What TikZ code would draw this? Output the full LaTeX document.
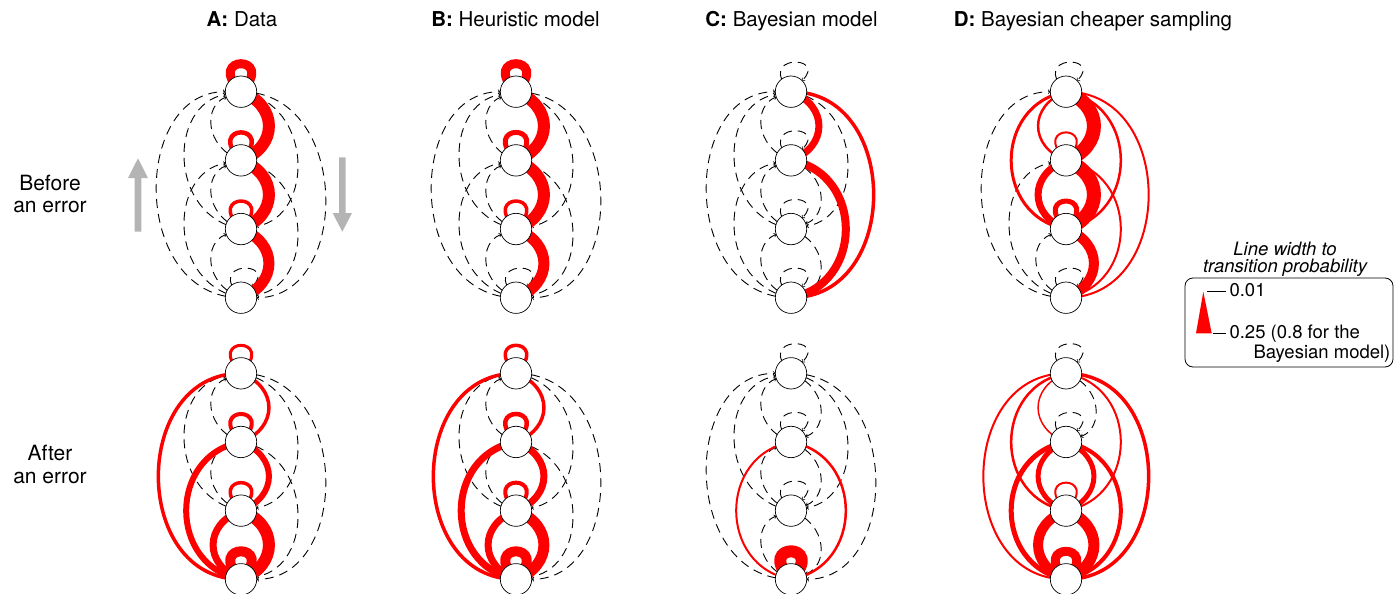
\documentclass[tikz,border=0pt]{standalone}
\usepackage{fontspec}
\setmainfont{TeX Gyre Heros}
\usetikzlibrary{arrows.meta,backgrounds}
\definecolor{arrgray}{RGB}{180,180,180}
\newcommand\edg[4]{\ifdim#4pt=0pt\relax\draw[dsh,e#2#3] (#1#2.center) to (#1#3.center);\else\draw[red,line width=#4pt,e#2#3] (#1#2.center) to (#1#3.center);\fi}
\begin{document}
\begin{tikzpicture}[x=1pt,y=1pt,
  st/.style={circle,draw=black,line width=0.7pt,fill=white,minimum size=31.4pt,inner sep=0pt},
  dsh/.style={black,line width=0.9pt,dash pattern=on 9pt off 6pt,shorten >=15.7pt,-{Straight Barb[length=1.8pt,width=4pt,line width=0.6pt]}},
  r1/.style={out=-20,in=20,looseness=1.48},
  r2/.style={out=-10,in=10,looseness=1.386},
  r3/.style={out=0,in=0,looseness=1.372},
  l1/.style={out=160,in=200,looseness=1.48},
  l2/.style={out=170,in=190,looseness=1.386},
  l3/.style={out=180,in=180,looseness=1.372},
  lp/.style={out=135,in=45,min distance=52.8pt},
  e11/.style={lp},e22/.style={lp},e33/.style={lp},e44/.style={lp},
  e12/.style={r1},e23/.style={r1},e34/.style={r1},e13/.style={r2},e24/.style={r2},e14/.style={r3},
  e21/.style={l1},e32/.style={l1},e43/.style={l1},e31/.style={l2},e42/.style={l2},e41/.style={l3},
  ttl/.style={font=\fontsize{20.5}{24}\selectfont,anchor=base},
  rowl/.style={font=\fontsize{21}{23}\selectfont,anchor=base},
  leg/.style={font=\fontsize{18.5}{20}\selectfont,anchor=base west},
  legt/.style={font=\fontsize{18.5}{20}\selectfont\itshape,anchor=base}
]
\useasboundingbox (0,0) rectangle (1400,-594);

\foreach \p/\x in {A/241,B/516,C/791,D/1066}{
  \foreach \r/\y in {t/91.7,b/373.3}{
    \foreach \i in {1,2,3,4}{
      \node[st] (\p\r\i) at (\x,{-\y-(\i-1)*68.67}) {};
    }}}

% titles
\node[ttl] (tA) at (242,-27) {\textbf{A:} Data};
\node[ttl] (tB) at (515.5,-27) {\textbf{B:} Heuristic model};
\node[ttl] (tC) at (791.5,-27) {\textbf{C:} Bayesian model};
\node[ttl] (tD) at (1093,-27) {\textbf{D:} Bayesian cheaper sampling};
% row labels
\node[rowl] (rb1) at (50,-190) {Before};
\node[rowl] (rb2) at (50,-212) {an error};
\node[rowl] (ra1) at (50,-460.5) {After};
\node[rowl] (ra2) at (50,-483.5) {an error};

% gray direction arrows
\fill[arrgray] (134.7,-231.7) -- (141.3,-231.7) -- (141.3,-178) -- (148,-178) -- (138,-158.3) -- (128,-178) -- (134.7,-178) -- cycle;
\fill[arrgray] (339,-157.3) -- (345.6,-157.3) -- (345.6,-213) -- (352,-213) -- (342.3,-231.7) -- (332.6,-213) -- (339,-213) -- cycle;

% legend
\draw[rounded corners=8pt,line width=0.8pt] (1185,-278) rectangle (1393,-367);
\node[legt] (lt1) at (1285,-255) {Line width to};
\node[legt] (lt2) at (1285,-272.7) {transition probability};
\fill[red] (1203.3,-291.7) -- (1196,-333.3) -- (1211.7,-333.3) -- cycle;
\draw[line width=0.8pt] (1207,-291.7) -- (1226,-291.7);
\draw[line width=0.8pt] (1213,-333.3) -- (1226,-333.3);
\node[leg] (lv1) at (1226,-296.7) {0.01};
\node[leg] (lv2) at (1226,-338.3) {0.25 (0.8 for the};
\node[leg] (lv3) at (1250,-358.3) {Bayesian model)};

\begin{pgfonlayer}{background}
% A top
\edg{At}{4}{4}{0}\edg{At}{1}{3}{0}\edg{At}{2}{4}{0}\edg{At}{1}{4}{0}
\edg{At}{2}{1}{0}\edg{At}{3}{2}{0}\edg{At}{4}{3}{0}\edg{At}{3}{1}{0}\edg{At}{4}{2}{0}\edg{At}{4}{1}{0}
\edg{At}{1}{1}{9}\edg{At}{2}{2}{4.5}\edg{At}{3}{3}{3.5}
\edg{At}{1}{2}{12}\edg{At}{2}{3}{12}\edg{At}{3}{4}{11}
% B top
\edg{Bt}{4}{4}{0}\edg{Bt}{1}{3}{0}\edg{Bt}{2}{4}{0}\edg{Bt}{1}{4}{0}
\edg{Bt}{2}{1}{0}\edg{Bt}{3}{2}{0}\edg{Bt}{4}{3}{0}\edg{Bt}{3}{1}{0}\edg{Bt}{4}{2}{0}\edg{Bt}{4}{1}{0}
\edg{Bt}{1}{1}{9}\edg{Bt}{2}{2}{5}\edg{Bt}{3}{3}{3.5}
\edg{Bt}{1}{2}{12}\edg{Bt}{2}{3}{12}\edg{Bt}{3}{4}{11}
% C top
\edg{Ct}{1}{1}{0}\edg{Ct}{2}{2}{0}\edg{Ct}{3}{3}{0}\edg{Ct}{4}{4}{0}
\edg{Ct}{2}{3}{0}\edg{Ct}{3}{4}{0}\edg{Ct}{1}{3}{0}
\edg{Ct}{2}{1}{0}\edg{Ct}{3}{2}{0}\edg{Ct}{4}{3}{0}\edg{Ct}{3}{1}{0}\edg{Ct}{4}{2}{0}\edg{Ct}{4}{1}{0}
\edg{Ct}{1}{4}{3.5}\edg{Ct}{1}{2}{7}\edg{Ct}{2}{4}{8}
% D top
\edg{Dt}{1}{1}{0}\edg{Dt}{4}{4}{0}\edg{Dt}{4}{3}{0}\edg{Dt}{4}{2}{0}\edg{Dt}{4}{1}{0}
\edg{Dt}{2}{2}{2}\edg{Dt}{3}{3}{5}\edg{Dt}{1}{3}{2.5}\edg{Dt}{2}{4}{2}\edg{Dt}{1}{4}{2}
\edg{Dt}{2}{1}{2.5}\edg{Dt}{3}{1}{3}\edg{Dt}{3}{2}{7}\edg{Dt}{3}{4}{10}\edg{Dt}{1}{2}{14}\edg{Dt}{2}{3}{14}
% A bottom
\edg{Ab}{2}{1}{0}\edg{Ab}{3}{2}{0}\edg{Ab}{3}{1}{0}\edg{Ab}{1}{3}{0}\edg{Ab}{2}{4}{0}\edg{Ab}{1}{4}{0}
\edg{Ab}{1}{1}{3}\edg{Ab}{2}{2}{4}\edg{Ab}{3}{3}{3.5}\edg{Ab}{4}{1}{3.5}\edg{Ab}{1}{2}{3.5}
\edg{Ab}{4}{2}{6}\edg{Ab}{2}{3}{6}\edg{Ab}{4}{3}{7}\edg{Ab}{4}{4}{10}\edg{Ab}{3}{4}{12}
% B bottom
\edg{Bb}{2}{1}{0}\edg{Bb}{3}{2}{0}\edg{Bb}{3}{1}{0}\edg{Bb}{1}{3}{0}\edg{Bb}{2}{4}{0}\edg{Bb}{1}{4}{0}
\edg{Bb}{1}{1}{3.5}\edg{Bb}{2}{2}{4.5}\edg{Bb}{3}{3}{4}\edg{Bb}{4}{1}{3.5}\edg{Bb}{1}{2}{3.5}
\edg{Bb}{4}{2}{7}\edg{Bb}{2}{3}{7}\edg{Bb}{4}{3}{7}\edg{Bb}{4}{4}{10}\edg{Bb}{3}{4}{11}
% C bottom
\edg{Cb}{1}{1}{0}\edg{Cb}{2}{2}{0}\edg{Cb}{3}{3}{0}
\edg{Cb}{1}{2}{0}\edg{Cb}{2}{3}{0}\edg{Cb}{3}{4}{0}\edg{Cb}{1}{3}{0}\edg{Cb}{1}{4}{0}
\edg{Cb}{2}{1}{0}\edg{Cb}{3}{2}{0}\edg{Cb}{4}{3}{0}\edg{Cb}{3}{1}{0}\edg{Cb}{4}{1}{0}
\edg{Cb}{4}{2}{2}\edg{Cb}{2}{4}{2.5}\edg{Cb}{4}{4}{12}
% D bottom
\edg{Db}{1}{1}{0}\edg{Db}{2}{2}{0}\edg{Db}{1}{2}{0}
\edg{Db}{2}{1}{1.5}\edg{Db}{3}{3}{2}\edg{Db}{1}{3}{2}\edg{Db}{4}{1}{2}\edg{Db}{3}{1}{2.5}\edg{Db}{1}{4}{3.5}
\edg{Db}{2}{4}{4}\edg{Db}{3}{2}{5}\edg{Db}{2}{3}{5}\edg{Db}{4}{2}{5}\edg{Db}{4}{4}{9}\edg{Db}{4}{3}{10}\edg{Db}{3}{4}{11}
\end{pgfonlayer}
\end{tikzpicture}
\end{document}
